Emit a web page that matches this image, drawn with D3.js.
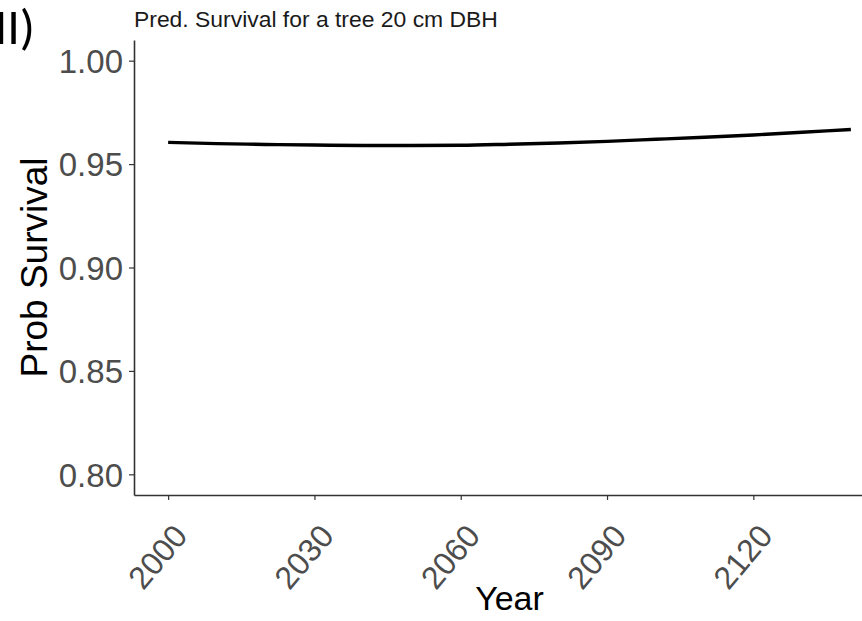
<!DOCTYPE html>
<html>
<head>
<meta charset="utf-8">
<script src="https://cdn.jsdelivr.net/npm/d3@7"></script>
<style>
  body { margin: 0; background: #fff; }
  svg { display: block; font-family: "Liberation Sans", Arial, sans-serif; }
</style>
</head>
<body>
<svg></svg>
<script>
// predicted survival
let years = [2000, 2010, 2020, 2030, 2040, 2050, 2060, 2070, 2080, 2090, 2100, 2110, 2120, 2130, 2140];
let survival = [0.9605, 0.9599, 0.9595, 0.9592, 0.959, 0.959, 0.9591, 0.9596, 0.9602, 0.961, 0.962, 0.963, 0.9641, 0.9654, 0.9667];
let xTicks = [2000, 2030, 2060, 2090, 2120];
let yTicks = [0.8, 0.85, 0.9, 0.95, 1.0];

let width = 862;
let height = 621;
let panelLeft = 134, panelRight = 885, panelTop = 40, panelBottom = 495;

let svg = d3.select("svg").attr("width", width).attr("height", height);

let xScale = d3.scaleLinear().domain([1993, 2147]).range([panelLeft, panelRight]);
let yScale = d3.scaleLinear().domain([0.79, 1.01]).range([panelBottom, panelTop]);

// panel label (cut at the left edge, as in the source figure)
svg.append("text")
  .attr("x", 35)
  .attr("y", 44)
  .attr("text-anchor", "end")
  .style("font-family", "Carlito, 'Liberation Sans', sans-serif")
  .style("font-size", "50px")
  .attr("fill", "#000")
  .text("MI)");

// title
svg.append("text")
  .attr("x", panelLeft)
  .attr("y", 27)
  .style("font-size", "22.9px")
  .attr("fill", "#1a1a1a")
  .text("Pred. Survival for a tree 20 cm DBH");

// line
let line = d3.line()
  .x((d, i) => xScale(years[i]))
  .y((d) => yScale(d))
  .curve(d3.curveMonotoneX);

svg.append("path")
  .datum(survival)
  .attr("fill", "none")
  .attr("stroke", "#000")
  .attr("stroke-width", 3.4)
  .attr("d", line);

// y axis
let yAxis = d3.axisLeft(yScale)
  .tickValues(yTicks)
  .tickFormat(d3.format(".2f"))
  .tickSize(5)
  .tickSizeOuter(0)
  .tickPadding(6);

let gy = svg.append("g")
  .attr("transform", "translate(" + panelLeft + ",0)")
  .call(yAxis);
gy.select(".domain").attr("stroke", "#333").attr("stroke-width", 1.6);
gy.selectAll(".tick line").attr("stroke", "#333").attr("stroke-width", 1.2);
gy.selectAll(".tick text")
  .attr("fill", "#4d4d4d")
  .style("font-size", "33px")
  .attr("dy", "0.36em");

// x axis
let xAxis = d3.axisBottom(xScale)
  .tickValues(xTicks)
  .tickFormat(d3.format("d"))
  .tickSize(5)
  .tickSizeOuter(0);

let gx = svg.append("g")
  .attr("transform", "translate(0," + panelBottom + ")")
  .call(xAxis);
gx.select(".domain").attr("stroke", "#333").attr("stroke-width", 1.6);
gx.selectAll(".tick line").attr("stroke", "#333").attr("stroke-width", 1.2);
gx.selectAll(".tick text")
  .attr("fill", "#4d4d4d")
  .style("font-size", "32px")
  .attr("text-anchor", "end")
  .attr("y", 0)
  .attr("dy", "0.71em")
  .attr("transform", "translate(3,27) rotate(-50)");

// axis titles
svg.append("text")
  .attr("x", (panelLeft + panelRight) / 2)
  .attr("y", 610)
  .attr("text-anchor", "middle")
  .style("font-size", "34px")
  .attr("fill", "#000")
  .text("Year");

svg.append("text")
  .attr("transform", "translate(47," + (panelTop + panelBottom) / 2 + ") rotate(-90)")
  .attr("text-anchor", "middle")
  .style("font-size", "37px")
  .attr("fill", "#000")
  .text("Prob Survival");
</script>
</body>
</html>
